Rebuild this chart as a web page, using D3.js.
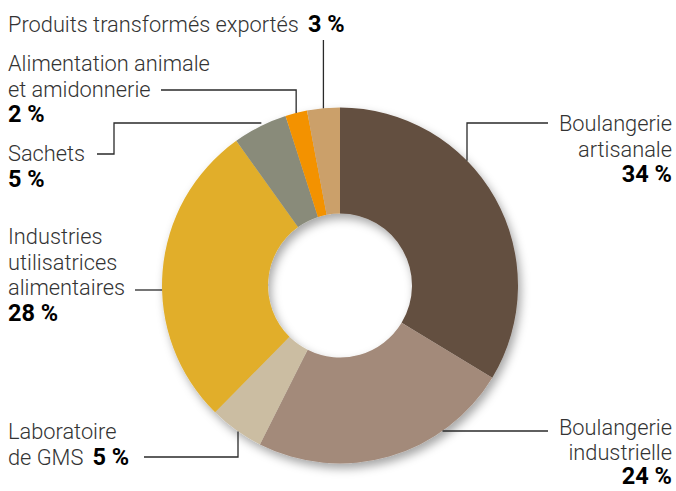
<!DOCTYPE html>
<html>
<head>
<meta charset="utf-8">
<script src="https://cdn.jsdelivr.net/npm/d3@7"></script>
<style>
  body { margin: 0; background: #fff; }
  text { font-family: Roboto, "Noto Sans", sans-serif; }
</style>
</head>
<body>
<div id="chart"></div>
<script>
// data, clockwise from 12 o'clock
var categories = ['Boulangerie artisanale', 'Boulangerie industrielle', 'Laboratoire de GMS',
  'Industries utilisatrices alimentaires', 'Sachets', 'Alimentation animale et amidonnerie',
  'Produits transformés exportés'];
var values = [34, 24, 5, 28, 5, 2, 3];
var percentLabels = ['34 %', '24 %', '5 %', '28 %', '5 %', '2 %', '3 %'];
var colors = ['#634f40', '#a38a7a', '#cbbda2', '#e1ae2b', '#898b7a', '#f39200', '#cba06a'];

var width = 676, height = 491;
var cx = 340, cy = 285.5, outer = 178, inner = 72;

var svg = d3.select('#chart').append('svg')
  .attr('width', width)
  .attr('height', height);

var defs = svg.append('defs');
var f = defs.append('filter').attr('id', 'shadow')
  .attr('x', '-20%').attr('y', '-20%').attr('width', '140%').attr('height', '140%');
f.append('feDropShadow')
  .attr('dx', 3).attr('dy', 5).attr('stdDeviation', 5)
  .attr('flood-color', '#000').attr('flood-opacity', 0.35);

var pie = d3.pie().sort(null).value(function(d) { return d; });
var arc = d3.arc().innerRadius(inner).outerRadius(outer);
var arcs = pie(values);

var group = svg.append('g')
  .attr('transform', 'translate(' + cx + ',' + cy + ')')
  .attr('filter', 'url(#shadow)');

group.selectAll('path')
  .data(arcs)
  .enter()
  .append('path')
  .attr('d', arc)
  .attr('fill', function(d, i) { return colors[i]; });

// point on the outer edge at the slice middle angle
function edge(i) {
  var a = (arcs[i].startAngle + arcs[i].endAngle) / 2;
  return [cx + outer * Math.sin(a), cy - outer * Math.cos(a)];
}
// edge x for a given y (left or right side)
function edgeX(y, side) { return cx + side * Math.sqrt(outer * outer - (y - cy) * (y - cy)); }
function edgeY(x, side) { return cy + side * Math.sqrt(outer * outer - (x - cx) * (x - cx)); }

// leader lines
var leaders = [
  [[548, 123], [467, 123], [467, edgeY(467, -1)]],
  [[548, 431], [edgeX(431, 1), 431]],
  [[144, 457], [238, 457], [238, edgeY(238, 1)]],
  [[135, 290], [edgeX(290, -1), 290]],
  [[97, 154], [114, 154], [114, 123], [edgeX(123, -1) - 6, 123]],
  [[161, 90], [edge(5)[0], 90], edge(5)],
  [[edge(6)[0], 40], edge(6)]
];

svg.selectAll('polyline.leader')
  .data(leaders)
  .enter()
  .append('polyline')
  .attr('class', 'leader')
  .attr('points', function(d) { return d.map(function(p) { return p.join(','); }).join(' '); })
  .attr('fill', 'none')
  .attr('stroke', '#2a2a2a')
  .attr('stroke-width', 1.3);

// labels: lines of text, last one is percent (bold)
var labels = [
  { x: 672, anchor: 'end', y: 131, lines: ['Boulangerie', 'artisanale'], i: 0 },
  { x: 672, anchor: 'end', y: 435, lines: ['Boulangerie', 'industrielle'], i: 1, lh: 24.5 },
  { x: 8, anchor: 'start', y: 439, lines: ['Laboratoire', 'de GMS'], i: 2, inline: true },
  { x: 8, anchor: 'start', y: 244, lines: ['Industries', 'utilisatrices', 'alimentaires'], i: 3 },
  { x: 8, anchor: 'start', y: 161, lines: ['Sachets'], i: 4 },
  { x: 8, anchor: 'start', y: 71, lines: ['Alimentation animale', 'et amidonnerie'], i: 5 },
  { x: 8, anchor: 'start', y: 32, lines: ['Produits transformés exportés'], i: 6, inline: true }
];
var lh = 25.5, fs = 21.8, fsb = 23.5;

labels.forEach(function(l) {
  var step = l.lh || lh;
  var t = svg.append('text')
    .attr('x', l.x).attr('y', l.y)
    .attr('text-anchor', l.anchor)
    .style('font-size', fs + 'px');
  l.lines.forEach(function(s, k) {
    t.append('tspan')
      .attr('x', l.x)
      .attr('dy', k === 0 ? 0 : step)
      .attr('fill', '#333')
      .attr('font-weight', 300)
      .text(s);
  });
  var p = t.append('tspan').attr('fill', '#000').attr('font-weight', 700)
    .style('font-size', fsb + 'px')
    .text(percentLabels[l.i]);
  if (l.inline) p.attr('dx', 9);
  else p.attr('x', l.x).attr('dy', step);
});
</script>
</body>
</html>
